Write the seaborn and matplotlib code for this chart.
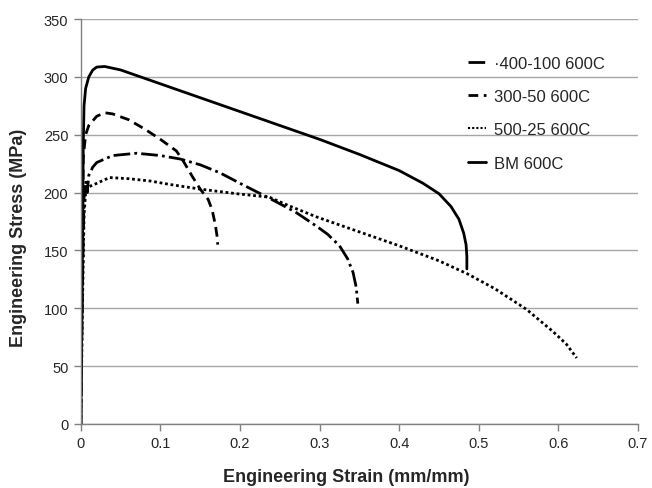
import seaborn as sns
import numpy as np
import pandas as pd
import matplotlib.pyplot as plt

# curves (strain mm/mm, stress MPa)
strain_400_100 = [0, 0.002, 0.004, 0.006, 0.008, 0.01, 0.015, 0.02, 0.04, 0.07, 0.1, 0.125, 0.15,
                  0.175, 0.2, 0.22, 0.24, 0.27, 0.296, 0.31, 0.325, 0.335, 0.342, 0.346, 0.348]
stress_400_100 = [0, 120, 195, 210, 200, 215, 222, 226, 232, 234, 232, 229, 224,
                  217, 208, 201, 194, 183, 171, 164, 154, 143, 131, 118, 104]

strain_300_50 = [0, 0.002, 0.003, 0.006, 0.01, 0.02, 0.03, 0.04, 0.06, 0.08, 0.1, 0.12, 0.128,
                 0.14, 0.15, 0.16, 0.165, 0.169, 0.171, 0.172]
stress_300_50 = [0, 150, 230, 250, 258, 266, 269, 268, 263, 255, 246, 236, 228,
                 214, 203, 194, 185, 172, 163, 155]

strain_500_25 = [0, 0.002, 0.004, 0.006, 0.01, 0.02, 0.036, 0.06, 0.087, 0.112, 0.15, 0.196, 0.237,
                 0.26, 0.296, 0.35, 0.4, 0.45, 0.485, 0.52, 0.56, 0.593, 0.61, 0.623]
stress_500_25 = [0, 100, 180, 200, 205, 208, 213, 212, 210, 207, 203, 199, 196,
                 189, 179, 166, 154, 141, 130, 117, 99, 80, 69, 57]

strain_bm = [0, 0.002, 0.003, 0.004, 0.006, 0.01, 0.015, 0.02, 0.03, 0.05, 0.1, 0.15, 0.2, 0.25,
             0.3, 0.35, 0.4, 0.43, 0.45, 0.465, 0.475, 0.481, 0.484, 0.485, 0.485]
stress_bm = [0, 150, 240, 275, 290, 300, 306, 308.5, 309, 306, 294, 282, 270, 258,
             246, 233, 219, 208, 199, 188, 177, 165, 155, 145, 134]

labels = ["\u00b7400-100 600C", "300-50 600C", "500-25 600C", "BM 600C"]

frames = []
for lab, x, y in zip(labels,
                     [strain_400_100, strain_300_50, strain_500_25, strain_bm],
                     [stress_400_100, stress_300_50, stress_500_25, stress_bm]):
    frames.append(pd.DataFrame({"strain": x, "stress": y, "series": lab}))
df = pd.concat(frames, ignore_index=True)

sns.set_style("white")
plt.rcParams['font.family'] = ['Liberation Sans', 'DejaVu Sans']

fig, ax = plt.subplots(figsize=(6.52, 4.89), dpi=100)
fig.subplots_adjust(left=0.124, right=0.9785, bottom=0.131, top=0.959)

dashes = {labels[0]: (6, 1.5, 1, 1.5),
          labels[1]: (3.5, 2),
          labels[2]: (1, 1),
          labels[3]: ""}
sns.lineplot(data=df, x="strain", y="stress", style="series", sort=False, estimator=None,
             dashes=dashes, color="black", linewidth=2, ax=ax, legend=True)
# dotted line is thinner
for line in ax.get_lines():
    if line.get_label() == labels[2]:
        line.set_linewidth(1.5)

ax.set_xlim(0, 0.7)
ax.set_ylim(0, 350)
ax.set_xticks(np.arange(0, 0.71, 0.1))
ax.set_xticklabels(["0", "0.1", "0.2", "0.3", "0.4", "0.5", "0.6", "0.7"])
ax.set_yticks(np.arange(0, 351, 50))
ax.yaxis.grid(True, color="#a6a6a6", linewidth=1)
ax.set_axisbelow(True)
for s in ["top", "right"]:
    ax.spines[s].set_visible(False)
for s in ["left", "bottom"]:
    ax.spines[s].set_color("#808080")
    ax.spines[s].set_linewidth(1)
ax.tick_params(axis="both", direction="out", length=5, width=1, color="#808080",
               labelsize=10.5, bottom=True, left=True, pad=4)
ax.set_xlabel("Engineering Strain (mm/mm)", fontsize=13, fontweight="bold")
ax.set_ylabel("Engineering Stress (MPa)", fontsize=13, fontweight="bold")
ax.xaxis.set_label_coords(0.476, -0.108)
ax.yaxis.set_label_coords(-0.097, 0.462)

handles, labs = ax.get_legend_handles_labels()
leg = ax.legend(handles, labs, loc="upper left", bbox_to_anchor=(0.695, 0.915),
                bbox_transform=fig.transFigure, frameon=False, fontsize=12,
                handlelength=1.1, handletextpad=0.45, labelspacing=1.1)

plt.savefig("out.png", dpi=100)
